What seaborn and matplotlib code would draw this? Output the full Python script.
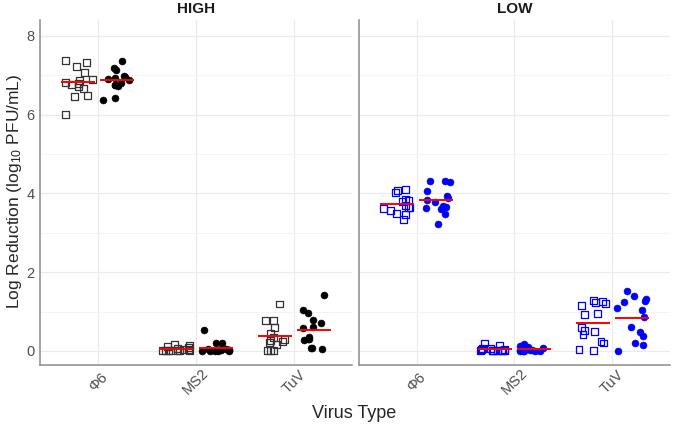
import numpy as np
import pandas as pd
import matplotlib
matplotlib.use("Agg")
import matplotlib.pyplot as plt
import seaborn as sns

# ---------------- data ----------------
viruses = ["Φ6", "MS2", "TuV"]
levels = ["HIGH", "LOW"]
groups = ["Square", "Circle"]

high_phi6_sq = [7.38, 7.31, 7.21, 7.07, 6.90, 6.87, 6.80, 6.82, 6.76, 6.70, 6.66, 6.49, 6.46, 6.00]
high_phi6_ci = [7.35, 7.19, 7.13, 6.97, 6.93, 6.89, 6.90, 6.95, 6.74, 6.76, 6.79, 6.73, 6.43, 6.36]
high_ms2_sq = [0.00, 0.04, 0.10, 0.17, 0.13, 0.00, 0.00, 0.00, 0.02, 0.05, 0.08, 0.00, 0.01, 0.03]
high_ms2_ci = [0.52, 0.20, 0.19, 0.05, 0.03, 0.02, 0.00, 0.00, 0.01, 0.04, 0.00, 0.02, 0.06, 0.00]
high_tuv_sq = [1.19, 0.78, 0.77, 0.59, 0.45, 0.34, 0.27, 0.28, 0.25, 0.21, 0.17, 0.00, 0.00, 0.00]
high_tuv_ci = [1.42, 1.04, 0.97, 0.79, 0.72, 0.61, 0.59, 0.36, 0.31, 0.30, 0.27, 0.08, 0.08, 0.04]

low_phi6_sq = [4.10, 4.07, 4.03, 3.84, 3.82, 3.80, 3.69, 3.64, 3.62, 3.64, 3.56, 3.50, 3.47, 3.33]
low_phi6_ci = [4.31, 4.28, 4.31, 4.05, 3.94, 3.89, 3.84, 3.77, 3.69, 3.66, 3.64, 3.60, 3.47, 3.23]
low_ms2_sq = [0.20, 0.15, 0.07, 0.07, 0.03, 0.00, 0.00, 0.00, 0.00, 0.00, 0.01, 0.02, 0.00, 0.04]
low_ms2_ci = [0.17, 0.13, 0.10, 0.07, 0.05, 0.03, 0.02, 0.02, 0.00, 0.00, 0.01, 0.00, 0.03, 0.00]
low_tuv_sq = [1.29, 1.22, 1.25, 1.20, 1.16, 0.92, 0.96, 0.59, 0.51, 0.49, 0.42, 0.25, 0.20, 0.04, 0.00]
low_tuv_ci = [1.53, 1.40, 1.27, 1.31, 1.25, 1.10, 1.04, 0.87, 0.61, 0.48, 0.37, 0.20, 0.14, 0.00]

series = {
    ("HIGH", "Φ6", "Square"): high_phi6_sq, ("HIGH", "Φ6", "Circle"): high_phi6_ci,
    ("HIGH", "MS2", "Square"): high_ms2_sq, ("HIGH", "MS2", "Circle"): high_ms2_ci,
    ("HIGH", "TuV", "Square"): high_tuv_sq, ("HIGH", "TuV", "Circle"): high_tuv_ci,
    ("LOW", "Φ6", "Square"): low_phi6_sq, ("LOW", "Φ6", "Circle"): low_phi6_ci,
    ("LOW", "MS2", "Square"): low_ms2_sq, ("LOW", "MS2", "Circle"): low_ms2_ci,
    ("LOW", "TuV", "Square"): low_tuv_sq, ("LOW", "TuV", "Circle"): low_tuv_ci,
}
rows = []
for (lv, vi, gr), vals in series.items():
    for v in vals:
        rows.append({"level": lv, "virus": vi, "group": gr, "value": v})
df = pd.DataFrame(rows)

level_colors = {"HIGH": "#000000", "LOW": "#0000FF"}

# ---------------- style ----------------
sns.set_theme(style="white")
plt.rcParams["font.family"] = ["Liberation Sans", "DejaVu Sans"]
plt.rcParams["mathtext.default"] = "regular"

np.random.seed(7)

fig = plt.figure(figsize=(6.74, 4.26), dpi=100)
bottom, height = 0.143, 0.810
ax1 = fig.add_axes([0.0593, bottom, 0.463, height])
ax2 = fig.add_axes([0.5326, bottom, 0.4614, height], sharey=ax1)

for ax, lv in zip([ax1, ax2], levels):
    col = level_colors[lv]
    sub = df[df["level"] == lv]
    for gr in groups:
        gsub = sub[sub["group"] == gr]
        n_before = len(ax.collections)
        sns.stripplot(data=gsub, x="virus", y="value", hue="group",
                      order=viruses, hue_order=groups, dodge=True, jitter=0.3,
                      palette={g: col for g in groups},
                      marker="s" if gr == "Square" else "o",
                      size=5.0 if gr == "Square" else 5.0,
                      ax=ax, legend=False, zorder=3)
        for c in ax.collections[n_before:]:
            if gr == "Square":
                c.set_facecolor("none")
                c.set_edgecolor("#333333" if lv == "HIGH" else col)
                c.set_linewidth(0.9)
            else:
                c.set_facecolor(col)
                c.set_edgecolor(col)
                c.set_linewidth(0.4)
    sns.pointplot(data=sub, x="virus", y="value", hue="group",
                  order=viruses, hue_order=groups, dodge=0.4,
                  estimator="mean", errorbar=None,
                  palette={g: "#FF0000" for g in groups},
                  markers="_", linestyle="none", markersize=24,
                  markeredgewidth=1.4, ax=ax, legend=False, zorder=4)

    ax.set_xlim(-0.59, 2.59)
    ax.set_ylim(-0.36, 8.4)
    ax.set_yticks([0, 2, 4, 6, 8])
    ax.set_yticks([1, 3, 5, 7], minor=True)
    ax.grid(True, which="major", color="#EBEBEB", lw=0.9, zorder=0)
    ax.grid(True, which="minor", axis="y", color="#F3F3F3", lw=0.6, zorder=0)
    ax.set_axisbelow(True)
    for s in ["top", "right"]:
        ax.spines[s].set_visible(False)
    for s in ["left", "bottom"]:
        ax.spines[s].set_color("#8C8C8C")
        ax.spines[s].set_linewidth(1.1)
    ax.tick_params(axis="y", length=0, labelsize=10.5, labelcolor="#4D4D4D", pad=4)
    ax.tick_params(axis="x", length=0, labelsize=10.5, labelcolor="#4D4D4D", pad=12)
    ax.set_xticks(range(len(viruses)))
    ax.set_xticklabels(viruses, rotation=45, ha="center", va="center")
    ax.set_xlabel("")
    ax.set_ylabel("")
    ax.set_title(lv, fontsize=11, fontweight="bold", color="#1A1A1A", pad=5)

ax2.tick_params(axis="y", labelleft=False)
fig.text(0.022, 0.55, "Log Reduction (log$_{10}$ PFU/mL)", fontsize=12.5,
         rotation=90, ha="center", va="center")
fig.text(0.526, 0.03, "Virus Type", fontsize=13, ha="center", va="center")

fig.savefig("out.png", dpi=100)
